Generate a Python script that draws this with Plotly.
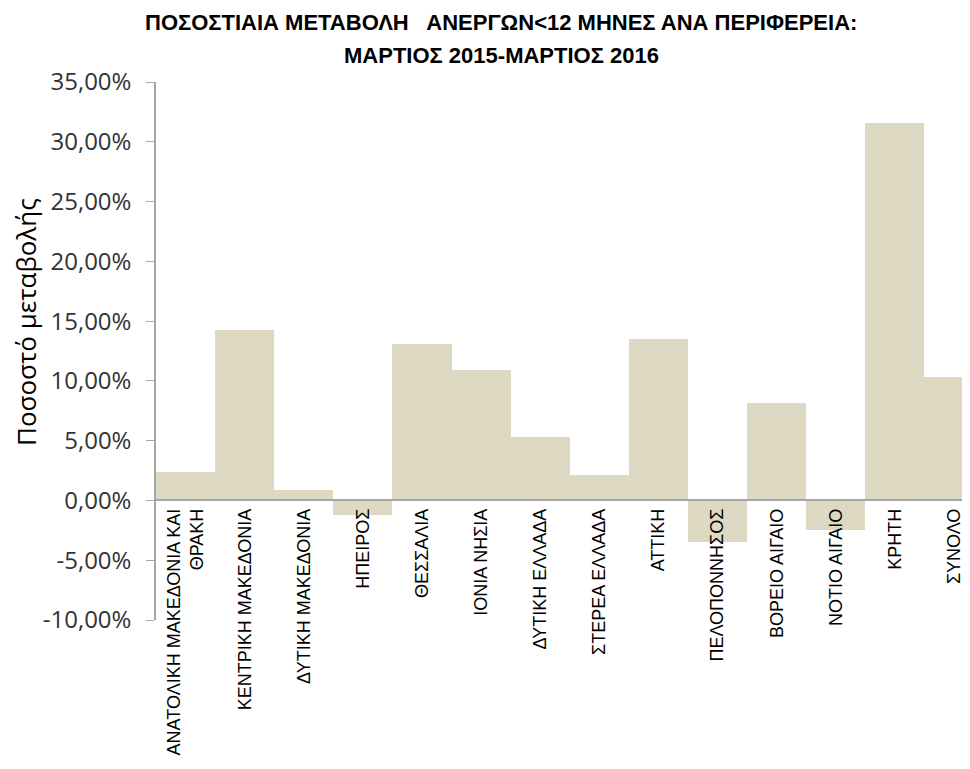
import plotly.graph_objects as go

# Regions (category labels) and % change, March 2015 - March 2016
regions = [
    "ΑΝΑΤΟΛΙΚΗ ΜΑΚΕΔΟΝΙΑ ΚΑΙ<br>ΘΡΑΚΗ",
    "ΚΕΝΤΡΙΚΗ ΜΑΚΕΔΟΝΙΑ",
    "ΔΥΤΙΚΗ ΜΑΚΕΔΟΝΙΑ",
    "ΗΠΕΙΡΟΣ",
    "ΘΕΣΣΑΛΙΑ",
    "ΙΟΝΙΑ ΝΗΣΙΑ",
    "ΔΥΤΙΚΗ ΕΛΛΑΔΑ",
    "ΣΤΕΡΕΑ ΕΛΛΑΔΑ",
    "ΑΤΤΙΚΗ",
    "ΠΕΛΟΠΟΝΝΗΣΟΣ",
    "ΒΟΡΕΙΟ ΑΙΓΑΙΟ",
    "ΝΟΤΙΟ ΑΙΓΑΙΟ",
    "ΚΡΗΤΗ",
    "ΣΥΝΟΛΟ",
]
pct_change = [2.39, 14.25, 0.89, -1.25, 13.06, 10.95, 5.28, 2.17, 13.50, -3.47, 8.17, -2.50, 31.56, 10.31]

y_ticks = [-10, -5, 0, 5, 10, 15, 20, 25, 30, 35]
y_ticktext = ["-10,00%", "-5,00%", "0,00%", "5,00%", "10,00%", "15,00%", "20,00%", "25,00%", "30,00%", "35,00%"]

title_line1 = "ΠΟΣΟΣΤΙΑΙΑ ΜΕΤΑΒΟΛΗ   ΑΝΕΡΓΩΝ<12 ΜΗΝΕΣ ΑΝΑ ΠΕΡΙΦΕΡΕΙΑ:"
title_line2 = "ΜΑΡΤΙΟΣ 2015-ΜΑΡΤΙΟΣ 2016"
y_title = "Ποσοστό μεταβολής"

BAR_COLOR = "#DDD9C3"
AXIS_COLOR = "#A6A6A6"

fig = go.Figure(go.Bar(
    x=list(range(len(regions))),
    y=pct_change,
    marker=dict(color=BAR_COLOR, line=dict(width=0)),
))

ymin, ymax = y_ticks[0], y_ticks[-1]

# page has an 8px body margin, so the figure is shrunk by 8px and margins shifted
fig.update_layout(
    width=962, height=761,
    margin=dict(l=148, r=0, t=74, b=149),
    paper_bgcolor="white",
    plot_bgcolor="white",
    bargap=0,
    showlegend=False,
    font=dict(family="Liberation Sans, Arial, sans-serif", color="#000"),
    xaxis=dict(
        tickvals=list(range(len(regions))),
        ticktext=regions,
        tickangle=-90,
        range=[-0.5, 13.27],
        anchor="free",
        position=(0 - ymin) / (ymax - ymin),
        showline=True, linecolor=AXIS_COLOR, linewidth=2,
        ticks="", showgrid=False, zeroline=False,
        tickfont=dict(size=18, color="#000"),
    ),
    yaxis=dict(
        range=[ymin, ymax],
        tickvals=y_ticks,
        ticktext=y_ticktext,
        showline=True, linecolor=AXIS_COLOR, linewidth=1.5,
        ticks="outside", ticklen=8, tickcolor=AXIS_COLOR,
        ticklabelstandoff=10,
        showgrid=False, zeroline=False,
        tickfont=dict(size=24, family="Open Sans, Liberation Sans, sans-serif", color="#333"),
    ),
    annotations=[
        dict(text="<b>" + title_line1 + "</b>", xref="paper", yref="paper",
             x=(501 - 156) / 814, y=1 + (82 - 22) / 538,
             xanchor="center", yanchor="middle", showarrow=False,
             font=dict(size=22, family="Liberation Sans, sans-serif", color="#000"),
             ),
        dict(text="<b>" + title_line2 + "</b>", xref="paper", yref="paper",
             x=(501 - 156) / 814, y=1 + (82 - 56) / 538,
             xanchor="center", yanchor="middle", showarrow=False,
             font=dict(size=22, family="Liberation Sans, sans-serif", color="#000"),
             ),
        dict(text=y_title, xref="paper", yref="paper",
             x=(26 - 156) / 814, y=1 - (322 - 82) / 538,
             xanchor="center", yanchor="middle", textangle=-90, showarrow=False,
             font=dict(size=26, family="Open Sans, Liberation Sans, sans-serif", color="#000"),
             ),
    ],
)

fig.write_html("out.html")
